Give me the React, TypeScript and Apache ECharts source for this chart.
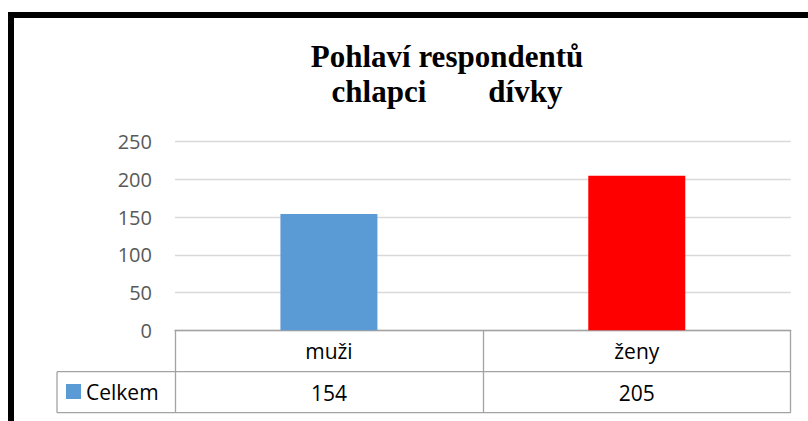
import React, { useEffect, useRef } from "react";
import * as echarts from "echarts";

const categories = ["muži", "ženy"];
const values = [154, 205];
const barColors = ["#5B9BD5", "#FF0000"];
const seriesName = "Celkem";
const yTicks = { min: 0, max: 250, interval: 50 };
const titleLine1 = "Pohlaví respondentů";
const titleLine2 = "chlapci" + "\u00A0".repeat(8) + "dívky";

const SANS = "'Open Sans', 'Noto Sans', sans-serif";
const GRID_COLOR = "#a3a3a3";

export default function App() {
  const ref = useRef<HTMLDivElement>(null);
  useEffect(() => {
    if (!ref.current) return;
    const chart = echarts.init(ref.current, undefined, { renderer: "svg" });
    const left = 175;
    const right = 790.7;
    const top = 141.7;
    const bottom = 330.2;
    const row2 = 371.7;
    const row3 = 412.7;
    const tableLeft = 57;
    chart.setOption({
      animation: false,
      backgroundColor: "#ffffff",
      title: {
        text: titleLine1 + "\n" + titleLine2,
        left: 447,
        top: 39,
        textAlign: "center",
        padding: 0,
        textStyle: {
          fontFamily: "'Liberation Serif', 'Times New Roman', serif",
          fontWeight: "bold",
          fontSize: 31,
          lineHeight: 35,
          color: "#000000",
        },
      },
      legend: {
        data: [seriesName],
        left: 66,
        top: 381,
        padding: 0,
        itemWidth: 15,
        itemHeight: 15,
        icon: "rect",
        textStyle: { fontFamily: SANS, fontSize: 21, color: "#000000" },
      },
      grid: {
        left: left,
        right: 808 - right,
        top: top,
        bottom: 421 - bottom,
        containLabel: false,
      },
      xAxis: [
        {
          type: "category",
          data: categories,
          position: "bottom",
          axisLine: { show: true, lineStyle: { color: GRID_COLOR, width: 1.3 } },
          axisTick: {
            show: true,
            interval: 0,
            alignWithLabel: false,
            length: row3 - bottom,
            lineStyle: { color: GRID_COLOR, width: 1.3 },
          },
          axisLabel: {
            interval: 0,
            margin: 7,
            fontFamily: SANS,
            fontSize: 21,
            lineHeight: 28,
            color: "#000000",
          },
        },
        {
          type: "category",
          data: values.map((v) => String(v)),
          position: "bottom",
          offset: row2 - bottom,
          axisLine: { show: false },
          axisTick: { show: false },
          axisLabel: {
            interval: 0,
            margin: 7,
            fontFamily: SANS,
            fontSize: 21,
            lineHeight: 28,
            color: "#000000",
          },
        },
      ],
      yAxis: {
        type: "value",
        min: yTicks.min,
        max: yTicks.max,
        interval: yTicks.interval,
        axisLine: { show: false },
        axisTick: { show: false },
        axisLabel: {
          margin: 23,
          fontFamily: SANS,
          fontSize: 20,
          color: "#595959",
        },
        splitLine: { lineStyle: { color: "#d9d9d9", width: 1.3 } },
      },
      series: [
        {
          name: seriesName,
          type: "bar",
          xAxisIndex: 0,
          barWidth: 97,
          itemStyle: { color: barColors[0] },
          data: values.map((v, i) => ({ value: v, itemStyle: { color: barColors[i] } })),
        },
      ],
      graphic: [
        {
          type: "line",
          shape: { x1: tableLeft, y1: row2, x2: right, y2: row2 },
          style: { stroke: GRID_COLOR, lineWidth: 1.3 },
        },
        {
          type: "line",
          shape: { x1: tableLeft, y1: row3, x2: right, y2: row3 },
          style: { stroke: GRID_COLOR, lineWidth: 1.3 },
        },
        {
          type: "line",
          shape: { x1: tableLeft, y1: row2, x2: tableLeft, y2: row3 },
          style: { stroke: GRID_COLOR, lineWidth: 1.3 },
        },
        {
          type: "rect",
          shape: { x: 11, y: 15, width: 830, height: 440 },
          style: { fill: "none", stroke: "#000000", lineWidth: 6 },
          z: 100,
        },
      ],
    });
    return () => chart.dispose();
  }, []);
  return (
    <div
      ref={ref}
      style={{ position: "fixed", left: 0, top: 0, width: 808, height: 421 }}
    />
  );
}
